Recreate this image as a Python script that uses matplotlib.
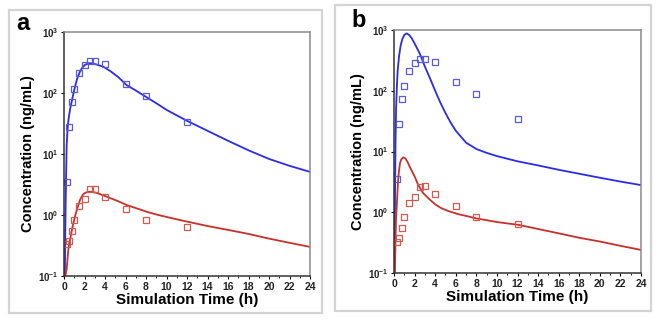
import matplotlib
matplotlib.use("Agg")
import matplotlib.pyplot as plt
from matplotlib.patches import Rectangle
from matplotlib.ticker import FixedLocator, NullFormatter

plt.rcParams['font.family'] = ['Liberation Sans', 'DejaVu Sans']
plt.rcParams['mathtext.fontset'] = 'custom'
plt.rcParams['mathtext.rm'] = 'Liberation Sans:bold'
plt.rcParams['mathtext.it'] = 'Liberation Sans:bold'
plt.rcParams['mathtext.bf'] = 'Liberation Sans:bold'

# ======== observed data (same in both panels) ========
obs_t_blue = [0.25, 0.5, 0.75, 1, 1.5, 2, 2.5, 3, 4, 6, 8, 12]
obs_c_blue = [3.5, 28, 72, 118, 215, 290, 330, 330, 300, 140, 88, 34]
obs_t_red = [0.25, 0.5, 0.75, 1, 1.5, 2, 2.5, 3, 4, 6, 8, 12]
obs_c_red = [0.33, 0.37, 0.55, 0.83, 1.4, 1.8, 2.65, 2.7, 2.0, 1.25, 0.82, 0.64]

# ======== simulated curves, panel a ========
sim_t_a = [0.08, 0.12, 0.16, 0.2, 0.26, 0.35, 0.45, 0.6, 0.75, 0.9, 1.07, 1.3, 1.56, 1.8,
           2.05, 2.3, 2.54, 2.8, 3.2, 3.83, 4.5, 5.3, 6.1, 7, 8.07, 9, 10, 11, 12, 14, 16,
           18, 20, 22, 24]
sim_blue_a = [0.1, 0.4, 1.5, 4, 14, 26, 38, 55, 72, 95, 126, 175, 224, 262,
              290, 303, 308, 305, 292, 270, 230, 182, 135, 110, 85, 68, 53, 43, 35, 24, 16.5,
              11.5, 8.3, 6.4, 5.1]
sim_red_a_t = [0.14, 0.18, 0.22, 0.26, 0.33, 0.42, 0.52, 0.65, 0.78, 0.91, 1.07, 1.24, 1.4,
               1.56, 1.72, 1.88, 2.1, 2.37, 2.7, 3.2, 3.83, 4.5, 5.3, 6.1, 7.0, 8.07, 9, 10,
               11, 12, 14, 16, 18, 20, 22, 24]
sim_red_a = [0.1, 0.11, 0.12, 0.13, 0.18, 0.27, 0.35, 0.44, 0.58, 0.73, 0.94, 1.2, 1.45,
             1.76, 1.98, 2.2, 2.32, 2.4, 2.4, 2.3, 2.1, 1.9, 1.68, 1.46, 1.3, 1.13, 1.02, 0.93,
             0.85, 0.78, 0.66, 0.57, 0.49, 0.41, 0.35, 0.3]

# ======== simulated curves, panel b ========
sim_t_b = [0.05, 0.1, 0.15, 0.2, 0.28, 0.36, 0.5, 0.65, 0.8, 1.0, 1.23, 1.5, 1.75, 2.0,
           2.5, 3.0, 3.5, 4.0, 4.5, 5.0, 5.5, 6.0, 7.0, 8.0, 9.0, 10, 12, 14, 16, 18, 20,
           22, 24]
sim_blue_b = [0.1, 2, 15, 50, 120, 220, 380, 560, 700, 830, 880, 820, 720, 600,
              410, 250, 160, 100, 64, 43, 30, 22, 14, 11, 9.5, 8.4, 6.9, 5.9, 5.0, 4.3, 3.7,
              3.2, 2.8]
sim_t_b_red = [0.08, 0.12, 0.16, 0.2, 0.26, 0.34, 0.42, 0.5, 0.58, 0.7, 0.9, 1.1, 1.3, 1.6,
               2.0, 2.36, 2.8, 3.34, 4.0, 4.63, 5.4, 6.25, 7.0, 8.03, 9, 10, 12.1, 14, 16, 18,
               20, 22, 24]
sim_red_b = [0.1, 0.2, 0.45, 0.8, 1.2, 2.2, 3.8, 5.0, 6.4, 7.4, 8.0, 7.7, 6.8, 5.3,
             3.9, 2.8, 2.1, 1.7, 1.35, 1.16, 1.03, 0.93, 0.87, 0.79, 0.74, 0.69, 0.62, 0.53,
             0.45, 0.38, 0.33, 0.28, 0.24]

xticks = list(range(0, 25, 2))
yticks = [0.1, 1, 10, 100, 1000]
ytick_labels = [r'$10^{-1}$', r'$10^{0}$', r'$10^{1}$', r'$10^{2}$', r'$10^{3}$']

blue_line = '#2b2be8'
blue_mark = '#5a5ad8'
red_line = '#c8302c'
red_mark = '#d05a50'

fig = plt.figure(figsize=(6.6, 3.21), dpi=100)

# light gray frames around each panel
fig.add_artist(Rectangle((9 / 660, 1 - 313 / 321), 313 / 660, 303 / 321, transform=fig.transFigure,
                         fill=False, edgecolor='#d4d4d4', linewidth=1.6))
fig.add_artist(Rectangle((335 / 660, 1 - 311 / 321), 316 / 660, 306 / 321, transform=fig.transFigure,
                         fill=False, edgecolor='#d4d4d4', linewidth=1.6))

ax_a = fig.add_axes([64 / 660, 1 - 276 / 321, 246 / 660, 244 / 321])
ax_b = fig.add_axes([394 / 660, 1 - 273 / 321, 247 / 660, 243 / 321])


def style(ax):
    ax.set_yscale('log')
    ax.set_xlim(0, 24)
    ax.set_ylim(0.1, 1000)
    ax.set_xticks(xticks)
    ax.set_xticklabels([str(v) for v in xticks], fontsize=7.5, fontweight='bold', color='#222222')
    ax.xaxis.set_minor_locator(FixedLocator(range(1, 24, 2)))
    ax.set_yticks(yticks)
    ax.set_yticklabels(ytick_labels, fontsize=7, color='#222222')
    ax.yaxis.set_minor_locator(FixedLocator([]))
    ax.yaxis.set_minor_formatter(NullFormatter())
    ax.tick_params(axis='both', which='major', length=2.5, width=0.8, pad=1.5, direction='out')
    ax.tick_params(axis='x', which='minor', length=1.5, width=0.6)
    for side in ['top', 'right']:
        ax.spines[side].set_color('#8a8a8a')
        ax.spines[side].set_linewidth(1.1)
    for side in ['left', 'bottom']:
        ax.spines[side].set_color('#333333')
        ax.spines[side].set_linewidth(1.1)
    ax.set_xlabel('Simulation Time (h)', fontsize=11, fontweight='bold', labelpad=1)
    ax.set_ylabel('Concentration (ng/mL)', fontsize=10.5, fontweight='bold', labelpad=2)


# panel a
ax_a.plot(sim_t_a, sim_blue_a, color=blue_line, lw=1.3)
ax_a.plot(sim_red_a_t, sim_red_a, color=red_line, lw=1.3)
ax_a.plot(obs_t_blue, obs_c_blue, 's', mfc='none', mec=blue_mark, ms=5, mew=0.9)
ax_a.plot(obs_t_red, obs_c_red, 's', mfc='none', mec=red_mark, ms=5, mew=0.9)
style(ax_a)

# panel b
ax_b.plot(sim_t_b, sim_blue_b, color=blue_line, lw=1.3)
ax_b.plot(sim_t_b_red, sim_red_b, color=red_line, lw=1.3)
ax_b.plot(obs_t_blue, obs_c_blue, 's', mfc='none', mec=blue_mark, ms=5, mew=0.9)
ax_b.plot(obs_t_red, obs_c_red, 's', mfc='none', mec=red_mark, ms=5, mew=0.9)
style(ax_b)

fig.text(16 / 660, 1 - 30 / 321, 'a', fontsize=17, fontweight='bold', va='baseline')
fig.text(351 / 660, 1 - 27 / 321, 'b', fontsize=17, fontweight='bold', va='baseline')

fig.savefig('out.png', dpi=100)
